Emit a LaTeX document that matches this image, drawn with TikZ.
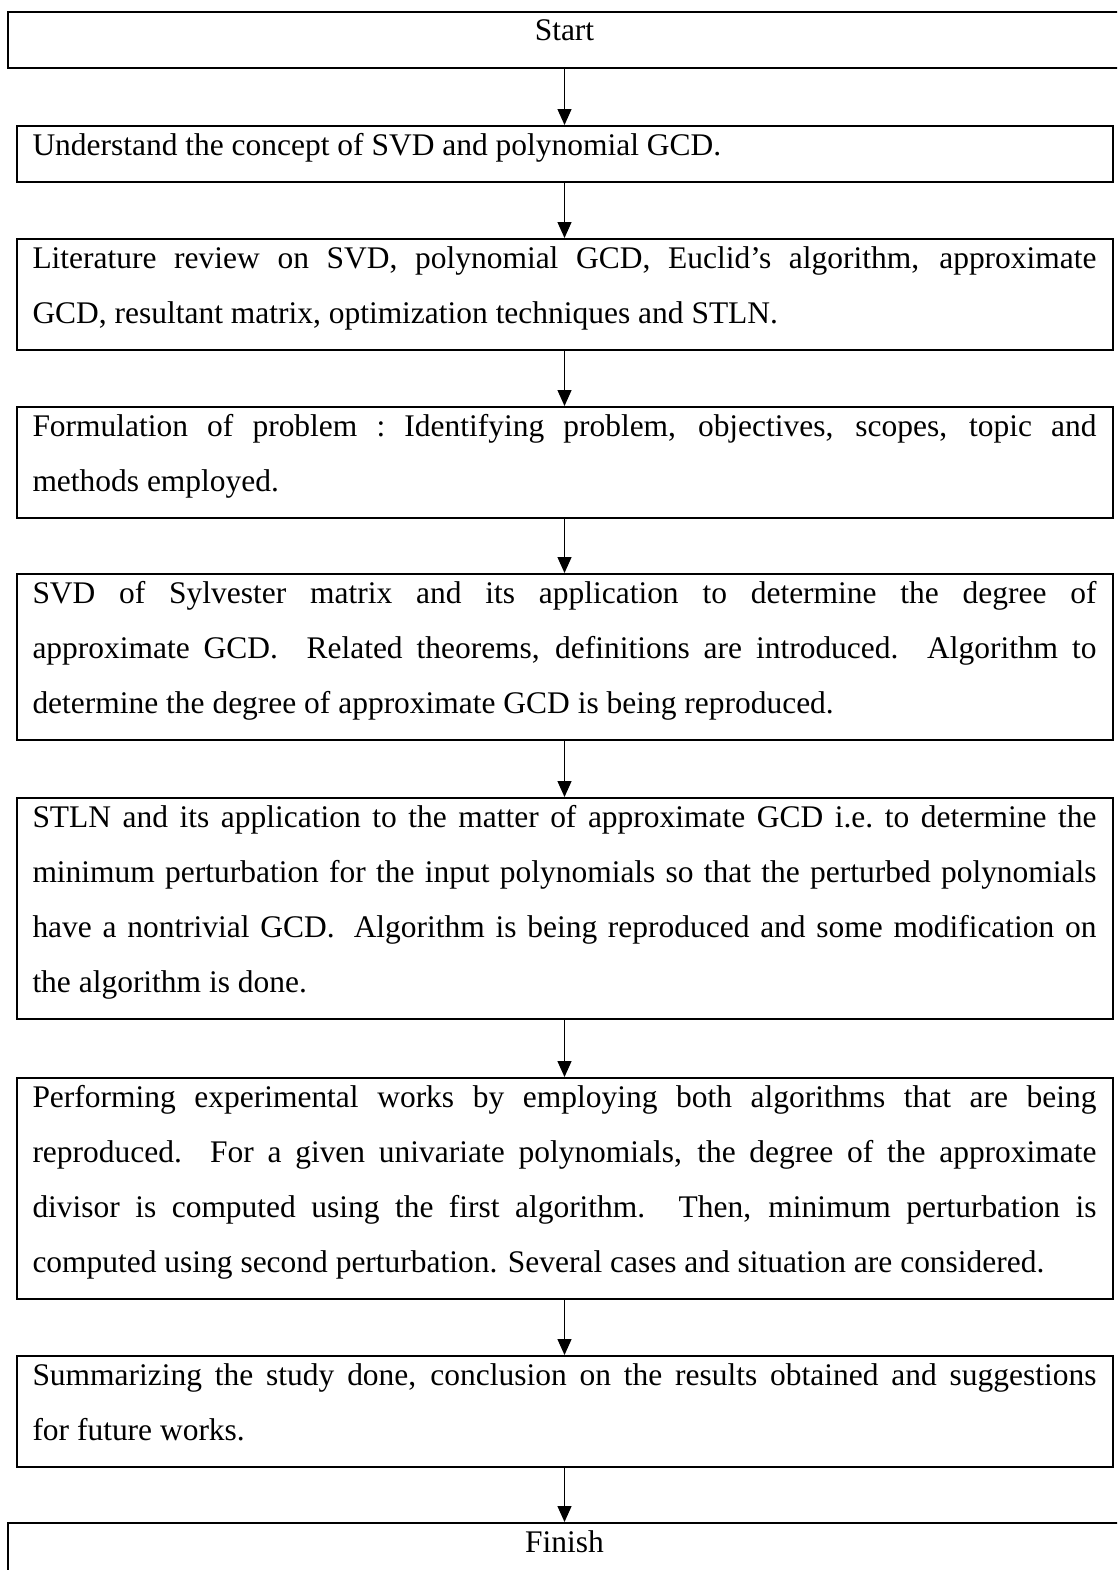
\documentclass[tikz,border=0pt]{standalone}
\usepackage{fontspec}
\setmainfont{Liberation Serif}
\usetikzlibrary{arrows.meta}
\tikzset{every picture/.style={line width=0.75pt}}
\tikzset{
  taskbox/.style={draw, line width=1.5pt, anchor=north, inner xsep=12pt, inner ysep=5.25pt,
    text width=798pt, align=justify, font=\fontsize{23.6}{41.25}\selectfont},
  endbox/.style={taskbox, text width=810.75pt, align=center},
  flow/.style={line width=1pt, -{Triangle[length=12pt,width=10.5pt]}}
}
\newcommand{\boxstrut}{\rule[-15pt]{0pt}{31.5pt}}
\hyphenpenalty=10000
\exhyphenpenalty=10000
\tolerance=9999

\begin{document}
\begin{tikzpicture}[x=0.75pt,y=0.75pt,yscale=-1,xscale=1]
\useasboundingbox (0,0) rectangle (1117,1570);
\clip (0,0) rectangle (1117,1570);

%Shape: Rectangle [start]
\node[endbox] (start) at (564.5,11) {\boxstrut Start};
%Shape: Rectangle [concept]
\node[taskbox] (concept) at (564.5,125) {\boxstrut Understand the concept of SVD and polynomial GCD.};
%Shape: Rectangle [review]
\node[taskbox] (review) at (564.5,238) {\boxstrut Literature review on SVD, polynomial GCD, Euclid’s algorithm, approximate \linebreak GCD, resultant matrix, optimization techniques and STLN.\boxstrut};
%Shape: Rectangle [formulation]
\node[taskbox] (formulation) at (564.5,406) {\boxstrut Formulation of problem :\ Identifying problem, objectives, scopes, topic and \linebreak methods employed.\boxstrut};
%Shape: Rectangle [svdstep]
\node[taskbox] (svdstep) at (564.5,573) {\boxstrut SVD of Sylvester matrix and its application to determine the degree of \linebreak approximate GCD\@. Related theorems, definitions are introduced. Algorithm to \linebreak determine the degree of approximate GCD is being reproduced.\boxstrut};
%Shape: Rectangle [stlnstep]
\node[taskbox] (stlnstep) at (564.5,797) {\boxstrut STLN and its application to the matter of approximate GCD i.e.\ to determine the \linebreak minimum perturbation for the input polynomials so that the perturbed polynomials \linebreak have a nontrivial GCD\@. Algorithm is being reproduced and some modification on \linebreak the algorithm is done.\boxstrut};
%Shape: Rectangle [experiment]
\node[taskbox] (experiment) at (564.5,1077) {\boxstrut Performing experimental works by employing both algorithms that are being \linebreak reproduced. For a given univariate polynomials, the degree of the approximate \linebreak divisor is computed using the first algorithm. Then, minimum perturbation is \linebreak computed using second perturbation. Several cases and situation are considered.\boxstrut};
%Shape: Rectangle [summary]
\node[taskbox] (summary) at (564.5,1355) {\boxstrut Summarizing the study done, conclusion on the results obtained and suggestions \linebreak for future works.\boxstrut};
%Shape: Rectangle [finish]
\node[endbox] (finish) at (564.5,1522) {\boxstrut Finish};

%Straight Lines
\draw[flow] (start) -- (concept);
\draw[flow] (concept) -- (review);
\draw[flow] (review) -- (formulation);
\draw[flow] (formulation) -- (svdstep);
\draw[flow] (svdstep) -- (stlnstep);
\draw[flow] (stlnstep) -- (experiment);
\draw[flow] (experiment) -- (summary);
\draw[flow] (summary) -- (finish);

\end{tikzpicture}
\end{document}
